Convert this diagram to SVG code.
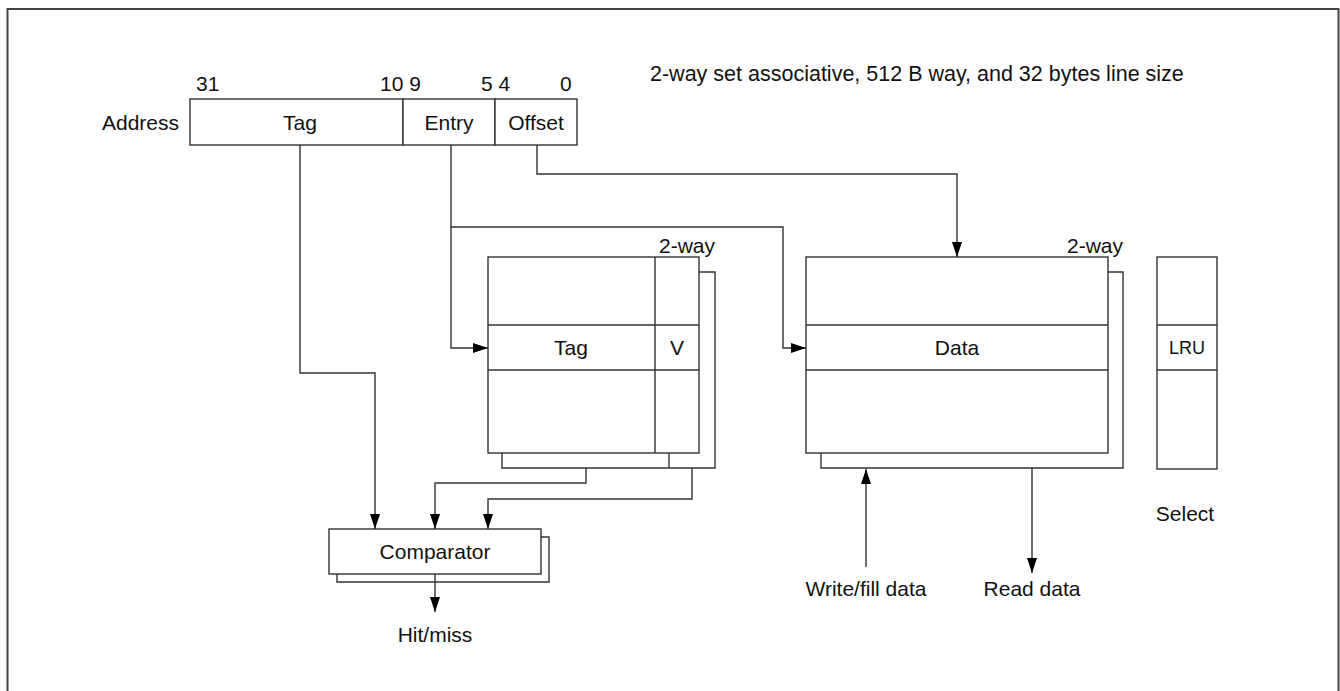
<svg xmlns="http://www.w3.org/2000/svg" width="1340" height="691" viewBox="0 0 1340 691">
<style>
text{font-family:"Liberation Sans",Arial,sans-serif;font-size:21px;fill:#111}
.c{text-anchor:middle}
.e{text-anchor:end}
.box{fill:#fff;stroke:#333;stroke-width:1.4}
.ln{fill:none;stroke:#333;stroke-width:1.4}
.ar{fill:none;stroke:#333;stroke-width:1.4;marker-end:url(#ah)}
</style>
<defs>
<marker id="ah" viewBox="0 0 15 10" refX="15" refY="5" markerWidth="15" markerHeight="10" markerUnits="userSpaceOnUse" orient="auto">
<path d="M0,0 L15,5 L0,10 z" fill="#000"/>
</marker>
</defs>
<rect x="7.5" y="9" width="1331" height="700" fill="#fff" stroke="#444" stroke-width="2"/>
<text x="650" y="81" style="font-size:21.5px">2-way set associative, 512 B way, and 32 bytes line size</text>

<g id="address">
<text x="179" y="130" class="e">Address</text>
<rect class="box" x="190" y="99" width="213" height="46"/>
<rect class="box" x="403" y="99" width="92" height="46"/>
<rect class="box" x="495" y="99" width="82" height="46"/>
<text x="300" y="130" class="c">Tag</text>
<text x="449" y="130" class="c">Entry</text>
<text x="536" y="130" class="c">Offset</text>
<text x="196" y="91">31</text>
<text x="380" y="91">10 9</text>
<text x="481" y="91">5 4</text>
<text x="560" y="91">0</text>
</g>

<g id="tag-array">
<polyline class="ln" points="502,453 502,468 715,468 715,272 699,272"/>
<line class="ln" x1="669" y1="453" x2="669" y2="468"/>
<rect class="box" x="488" y="257" width="211" height="196"/>
<line class="ln" x1="488" y1="325" x2="699" y2="325"/>
<line class="ln" x1="488" y1="370" x2="699" y2="370"/>
<line class="ln" x1="655" y1="257" x2="655" y2="453"/>
<text x="571" y="355" class="c">Tag</text>
<text x="677" y="355" class="c">V</text>
<text x="715" y="253" class="e">2-way</text>
</g>

<g id="data-array">
<polyline class="ln" points="821,453 821,468 1123,468 1123,272 1108,272"/>
<rect class="box" x="806" y="257" width="302" height="196"/>
<line class="ln" x1="806" y1="325" x2="1108" y2="325"/>
<line class="ln" x1="806" y1="370" x2="1108" y2="370"/>
<text x="957" y="355" class="c">Data</text>
<text x="1123" y="253" class="e">2-way</text>
</g>

<g id="lru">
<rect class="box" x="1157" y="257" width="60" height="212"/>
<line class="ln" x1="1157" y1="325" x2="1217" y2="325"/>
<line class="ln" x1="1157" y1="370" x2="1217" y2="370"/>
<text x="1187" y="354" class="c" style="font-size:18px">LRU</text>
<text x="1185" y="521" class="c">Select</text>
</g>

<g id="comparator">
<polyline class="ln" points="337,574 337,582 549,582 549,537 541,537"/>
<rect class="box" x="329" y="529" width="212" height="45"/>
<text x="435" y="559" class="c">Comparator</text>
<text x="435" y="642" class="c">Hit/miss</text>
</g>

<g id="io-labels">
<text x="866" y="596" class="c">Write/fill data</text>
<text x="1032" y="596" class="c">Read data</text>
</g>

<g id="connectors">
<polyline class="ar" points="300,145 300,373 375,373 375,529"/>
<polyline class="ar" points="451,145 451,348 488,348"/>
<polyline class="ar" points="451,227 783,227 783,348 806,348"/>
<polyline class="ar" points="537,145 537,174 957,174 957,257"/>
<polyline class="ar" points="586,468 586,483 435,483 435,529"/>
<polyline class="ar" points="692,468 692,499 488,499 488,529"/>
<polyline class="ar" points="435,574 435,612"/>
<polyline class="ar" points="866,567 866,469"/>
<polyline class="ar" points="1032,468 1032,573"/>
</g>
</svg>
